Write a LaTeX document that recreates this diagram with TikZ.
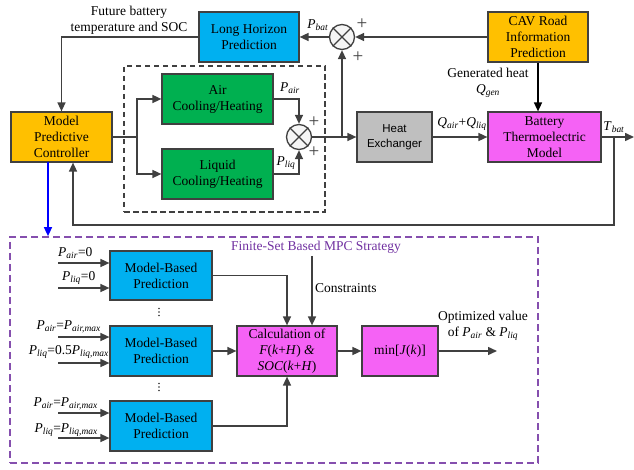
\documentclass[tikz,border=0pt]{standalone}
\usepackage{fontspec}
\setmainfont{Liberation Serif}
\newfontfamily\hsans{Liberation Sans}
\usetikzlibrary{arrows.meta,calc}
\definecolor{lnc}{HTML}{404040}
\definecolor{cblue}{HTML}{00B0F0}
\definecolor{corange}{HTML}{FFC000}
\definecolor{cgreen}{HTML}{00B050}
\definecolor{cgray}{HTML}{BFBFBF}
\definecolor{cmag}{HTML}{F562F5}
\definecolor{cpurple}{HTML}{7030A0}
\newcommand{\Pv}[1]{\textit{P}\textsubscript{\textit{#1}}}
\newcommand{\Qv}[1]{\textit{Q}\textsubscript{\textit{#1}}}
\begin{document}
\begin{tikzpicture}[x=1pt,y=-1pt,
  font=\fontsize{13.5}{16}\selectfont,
  blk/.style={draw=lnc, line width=1.2pt, align=center, inner sep=0pt},
  arr/.style={draw=lnc, line width=1.5pt, -{Triangle[length=9pt,width=8pt]}},
  ln/.style={draw=lnc, line width=1.5pt},
  sumj/.style={circle, draw=lnc, fill=gray!8, line width=1.3pt, minimum size=25pt, inner sep=0pt},
  lbl/.style={inner sep=0pt, align=center},
  plus/.style={inner sep=0pt, text=lnc, font=\fontsize{19}{19}\selectfont}]
\useasboundingbox (0,0) rectangle (634,470);

% frames
\node[draw=black!75, dash pattern=on 5.5pt off 3.5pt, line width=1.3pt, minimum width=201pt, minimum height=146pt, inner sep=0] (dbox) at (224.5,139) {};
\node[draw=cpurple!85, dash pattern=on 7pt off 4pt, line width=1.7pt, minimum width=528pt, minimum height=226pt, inner sep=0] (fsbox) at (274,350) {};

% top blocks
\node[blk, fill=cblue, minimum width=100pt, minimum height=50pt] (lhp) at (249,37) {Long Horizon\\Prediction};
\node[blk, fill=corange, minimum width=100pt, minimum height=50pt] (cav) at (538,37) {CAV Road\\Information\\Prediction};
\node[blk, fill=corange, minimum width=101pt, minimum height=50pt] (mpc) at (61.5,137) {Model\\Predictive\\Controller};
\node[blk, fill=cgreen, minimum width=111pt, minimum height=50pt] (air) at (217.5,99) {Air\\Cooling/Heating};
\node[blk, fill=cgreen, minimum width=111pt, minimum height=50pt] (liq) at (217.5,174) {Liquid\\Cooling/Heating};
\node[blk, fill=cgray, minimum width=75pt, minimum height=50pt, font=\hsans\fontsize{11.5}{15}\selectfont] (hx) at (394.5,137) {Heat\\Exchanger};
\node[blk, fill=cmag, minimum width=113pt, minimum height=50pt] (bat) at (544.5,137) {Battery\\Thermoelectric\\Model};

\node[sumj] (s1) at (299,137) {};
\draw[lnc, line width=1.2pt] (s1.north west) -- (s1.south east) (s1.north east) -- (s1.south west);
\node[sumj] (s2) at (342,37) {};
\draw[lnc, line width=1.2pt] (s2.north west) -- (s2.south east) (s2.north east) -- (s2.south west);

% top connectors
\coordinate (split) at (137,137);
\draw[ln] (mpc.east) -- (split);
\draw[arr] (split) |- (air.west);
\draw[arr] (split) |- (liq.west);
\draw[arr] (air.east) -| (s1.north);
\draw[arr] (liq.east) -| (s1.south);
\draw[arr] (s1.east) -- (hx.west);
\coordinate (br) at (342,137);
\draw[arr] (br) -- (s2.south);
\draw[arr] (s2.west) -- (lhp.east);
\draw[arr] (cav.west) -- (s2.east);
\draw[arr] (lhp.west) -| (mpc.north);
\draw[draw=black, line width=1.5pt, -{Triangle[length=9pt,width=8pt]}] (cav.south) -- (cav.south |- bat.north);
\draw[arr] (hx.east) -- (bat.west);
\coordinate (out) at (634,137);
\draw[arr] (bat.east) -- (out);
\coordinate (fb) at (614,137);
\coordinate (fbl) at (73,225);
\draw[arr] (fb) |- (fbl) -- (fbl |- mpc.south);
\coordinate (bs) at (48,162);
\draw[draw=blue, line width=1.5pt, -{Triangle[length=9pt,width=8pt]}] (bs) -- (bs |- fsbox.north);

% top labels
\node[lbl] (fut) at (129,20) {Future battery\\temperature and SOC};
\node[lbl] (pbat) at (318,25) {\Pv{bat}};
\node[lbl] (pair) at (290,88) {\Pv{air}};
\node[lbl] (pliq) at (286,163) {\Pv{liq}};
\node[plus] (p1) at (314,122) {+};
\node[plus] (p2) at (314,152) {+};
\node[plus] (p3) at (362,24) {+};
\node[plus] (p4) at (358,57) {+};
\node[lbl] (gh) at (488,73) {Generated heat};
\node[lbl] (qg) at (488,91) {\Qv{gen}};
\node[lbl] (qal) at (462,124) {\Qv{air}+\Qv{liq}};
\node[lbl] (tb) at (614,127) {\textit{T}\textsubscript{\textit{bat}}};

% bottom
\node[lbl, text=cpurple] (title) at (316,247) {Finite-Set Based MPC Strategy};
\node[blk, fill=cblue, minimum width=102pt, minimum height=49pt] (mb1) at (161,275.5) {Model-Based\\Prediction};
\node[blk, fill=cblue, minimum width=102pt, minimum height=50pt] (mb2) at (161,351) {Model-Based\\Prediction};
\node[blk, fill=cblue, minimum width=102pt, minimum height=50pt] (mb3) at (161,426) {Model-Based\\Prediction};
\node[blk, fill=cmag, minimum width=100pt, minimum height=50pt] (calc) at (287,351) {Calculation of\\\textit{F}(\textit{k}+\textit{H}) \textit{\&}\\\textit{SOC}(\textit{k}+\textit{H})};
\node[blk, fill=cmag, minimum width=76pt, minimum height=50pt] (minj) at (400,351) {min[\textit{J}(\textit{k})]};

\foreach \yy/\nm in {263/mb1,288/mb1,337/mb2,363/mb2,413/mb3,438/mb3}{
  \draw[arr] (58,\yy) -- (\nm.west |- 0,\yy);
}
\node[lbl, anchor=west] (l1) at (58,253) {\Pv{air}=0};
\node[lbl, anchor=west] (l2) at (62,278) {\Pv{liq}=0};
\node[lbl, anchor=east] (l3) at (101,327) {\Pv{air}=\Pv{air,max}};
\node[lbl, anchor=east] (l4) at (109,352) {\Pv{liq}=0.5\Pv{liq,max}};
\node[lbl, anchor=east] (l5) at (98,404) {\Pv{air}=\Pv{air,max}};
\node[lbl, anchor=east] (l6) at (98,430) {\Pv{liq}=\Pv{liq,max}};

\foreach \cy in {312,387}{
  \foreach \dd in {-3.5,0,3.5} \fill[black!80] (159,\cy+\dd) circle (0.9pt);
}

\draw[arr] (mb1.east) -| (calc.north);
\draw[arr] (mb2.east) -- (calc.west);
\draw[arr] (mb3.east) -| (calc.south);
\coordinate (cs) at (312,256);
\draw[arr] (cs) -- (cs |- calc.north);
\node[lbl, anchor=west] (cons) at (315,288) {Constraints};
\draw[arr] (calc.east) -- (minj.west);
\coordinate (opt) at (497,351);
\draw[arr] (minj.east) -- (opt);
\node[lbl] (optl) at (483,326) {Optimized value\\of \Pv{air} \& \Pv{liq}};
\end{tikzpicture}
\end{document}
